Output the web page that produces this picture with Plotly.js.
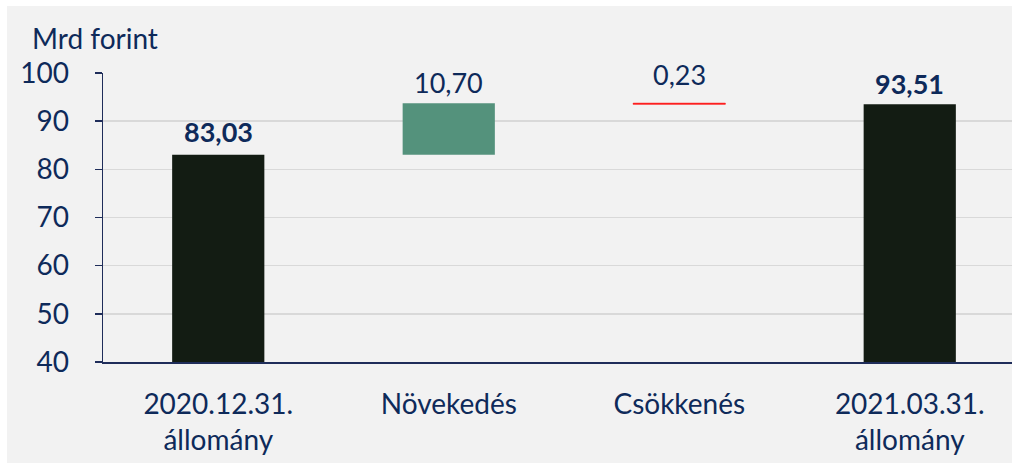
<!DOCTYPE html>
<html>
<head>
<meta charset="utf-8">
<script src="https://cdn.plot.ly/plotly-3.0.1.min.js"></script>
<style>
  html, body { margin: 0; padding: 0; background: #ffffff; overflow: hidden; width: 1012px; height: 463px; }
  #chart { position: absolute; left: 7px; top: 6px; width: 1023px; height: 457px; }
</style>
</head>
<body>
<div id="chart"></div>
<script>
// Data
const categories = ["2020.12.31.<br>állomány", "Növekedés", "Csökkenés", "2021.03.31.<br>állomány"];
const measures = ["absolute", "relative", "relative", "total"];
const values = [83.03, 10.70, -0.23, 0];
const valueLabels = ["83,03", "10,70", "0,23", "93,51"];
const labelBold = [true, false, false, true];
const labelShift = [23, 21, 29, 21];

// tops of bars computed from the data
const tops = [];
let run = 0;
for (let i = 0; i < values.length; i++) {
  if (measures[i] === "absolute") { run = values[i]; tops.push(run); }
  else if (measures[i] === "relative") { const prev = run; run += values[i]; tops.push(Math.max(prev, run)); }
  else { tops.push(run); }
}

const navy = "#0e2a5a";
const font = "Lato, 'Open Sans', sans-serif";

const trace = {
  type: "waterfall",
  x: categories,
  y: values,
  measure: measures,
  width: 0.4,
  connector: { visible: false },
  increasing: { marker: { color: "#54927c" } },
  decreasing: { marker: { color: "#ff0000", line: { color: "#ff0000", width: 0.6 } } },
  totals: { marker: { color: "#131c13" } },
  textinfo: "none",
  hoverinfo: "none"
};

const annotations = categories.map((c, i) => ({
  x: c, y: tops[i], xref: "x", yref: "y",
  text: labelBold[i] ? "<b>" + valueLabels[i] + "</b>" : valueLabels[i],
  showarrow: false, yanchor: "middle", xanchor: "center", yshift: labelShift[i],
  font: { family: font, size: 27, color: navy }
}));
annotations.push({
  text: "Mrd forint", xref: "paper", yref: "paper", x: -0.0792, y: 1.121,
  xanchor: "left", yanchor: "middle", showarrow: false,
  font: { family: font, size: 28, color: navy }
});

const layout = {
  width: 1023, height: 457,
  margin: { l: 96, r: 5, t: 67, b: 101 },
  paper_bgcolor: "#f2f2f2",
  plot_bgcolor: "#f2f2f2",
  showlegend: false,
  font: { family: font, color: navy, size: 28 },
  xaxis: {
    type: "category",
    showgrid: false,
    showline: true, linecolor: "#1f2d5a", linewidth: 2,
    ticks: "", tickfont: { family: font, size: 28, color: navy },
    ticklabelstandoff: 16,
    fixedrange: true
  },
  yaxis: {
    range: [40, 100],
    dtick: 10, tick0: 40,
    showgrid: true, gridcolor: "#d9d9d9", gridwidth: 1.5,
    showline: true, linecolor: "#1f2d5a", linewidth: 1.5,
    ticks: "outside", ticklen: 7, tickcolor: "#1f2d5a", tickwidth: 1.5,
    ticklabelstandoff: 20,
    tickfont: { family: font, size: 28, color: navy },
    zeroline: false,
    fixedrange: true
  },
  annotations: annotations
};

Plotly.newPlot("chart", [trace], layout, { displayModeBar: false, staticPlot: true });
</script>
</body>
</html>
